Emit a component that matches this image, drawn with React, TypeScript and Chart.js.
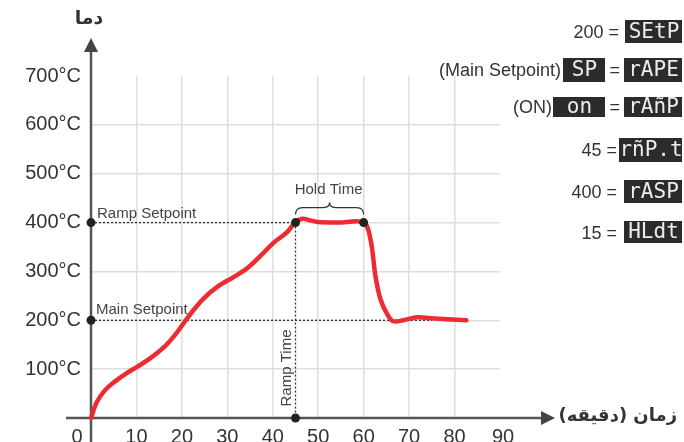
import { useEffect, useRef } from 'react';
import { Chart, registerables } from 'chart.js';

Chart.register(...registerables);

// ---- data ----
const timeMin = [0, 1.2, 3, 5.3, 8.2, 10.4, 13.3, 16.3, 18.5, 20.7, 22.4, 24.7, 27.7, 31.3, 34.3, 37.2, 40.1, 43.1, 45, 46.5, 48, 50, 55, 60, 61.5, 62.6, 63.7, 65.2, 66.5, 68.7, 71.8, 74.7, 78.4, 82.6];
const tempC = [0, 31, 56, 75, 94, 106, 124, 147, 170, 198, 219, 244, 268, 288, 306, 331, 358, 380, 401, 408, 405, 401, 400, 400, 366, 290, 243, 212, 198, 200, 206, 204, 202, 200];
const markerTime = [0, 0, 45, 60, 45];
const markerTemp = [400, 200, 400, 400, 0];
const xTickValues = [0, 10, 20, 30, 40, 50, 60, 70, 80, 90];
const yTickValues = [100, 200, 300, 400, 500, 600, 700];
const rampSetpoint = 400;
const mainSetpoint = 200;
const rampTime = 45;
const holdEnd = 60;
const mainSetpointEnd = 75;
const yAxisTitle = 'دما';
const xAxisTitle = 'زمان (دقیقه)';
const panelRows = [
  { pre: '200 =', codes: ['SEtP'] },
  { pre: '(Main Setpoint)', codes: ['SP', 'rAPE'] },
  { pre: '(ON)', codes: ['on', 'rAñP'] },
  { pre: '45 =', codes: ['rñP.t'] },
  { pre: '400 =', codes: ['rASP'] },
  { pre: '15 =', codes: ['HLdt'] },
];

const LATIN = '"Liberation Sans", Arial, sans-serif';

export default function App() {
  const ref = useRef<HTMLCanvasElement>(null);

  useEffect(() => {
    if (!ref.current) return;
    document.body.style.margin = '0';

    const overlay = {
      id: 'overlay',
      beforeDatasetsDraw(chart: any) {
        const { ctx, scales } = chart;
        const x = scales.x, y = scales.y;
        const X = (v: number) => x.getPixelForValue(v);
        const Y = (v: number) => y.getPixelForValue(v);
        const seg = (a: number, b: number, c: number, d: number) => {
          ctx.beginPath(); ctx.moveTo(a, b); ctx.lineTo(c, d); ctx.stroke();
        };
        ctx.save();
        // dotted guides
        ctx.setLineDash([2, 2]);
        ctx.strokeStyle = '#333';
        ctx.lineWidth = 1.3;
        seg(X(0), Y(rampSetpoint), X(rampTime), Y(rampSetpoint));
        seg(X(0), Y(mainSetpoint), X(mainSetpointEnd), Y(mainSetpoint));
        seg(X(rampTime), Y(rampSetpoint), X(rampTime), Y(0));
        ctx.setLineDash([]);
        // axes
        ctx.strokeStyle = '#555';
        ctx.fillStyle = '#444';
        ctx.lineWidth = 2.5;
        const x0 = X(0), y0 = Y(0);
        seg(x0, chart.height, x0, 50);
        seg(x0 - 25, y0, 543, y0);
        ctx.beginPath();
        ctx.moveTo(x0, 38); ctx.lineTo(x0 - 7, 52); ctx.lineTo(x0 + 7, 52); ctx.closePath(); ctx.fill();
        ctx.beginPath();
        ctx.moveTo(555, y0); ctx.lineTo(541, y0 - 7); ctx.lineTo(541, y0 + 7); ctx.closePath(); ctx.fill();
        // x tick labels
        ctx.fillStyle = '#333';
        ctx.font = `20px ${LATIN}`;
        ctx.textAlign = 'center';
        ctx.textBaseline = 'alphabetic';
        xTickValues.forEach((v) => {
          const off = v === 0 ? -14 : v === 90 ? 3 : 0;
          ctx.fillText(String(v), X(v) + off, 443);
        });
        ctx.restore();
      },
      afterDatasetsDraw(chart: any) {
        const { ctx, scales } = chart;
        const x = scales.x, y = scales.y;
        const X = (v: number) => x.getPixelForValue(v);
        const Y = (v: number) => y.getPixelForValue(v);
        ctx.save();
        // annotations
        ctx.fillStyle = '#444';
        ctx.font = `15px ${LATIN}`;
        ctx.textAlign = 'left';
        ctx.textBaseline = 'alphabetic';
        ctx.fillText('Ramp Setpoint', X(0) + 6, Y(rampSetpoint) - 5);
        ctx.fillText('Main Setpoint', X(0) + 5, Y(mainSetpoint) - 6);
        ctx.textAlign = 'center';
        const l = X(rampTime), r = X(holdEnd), mid = (l + r) / 2;
        const by = Y(rampSetpoint) - 10;
        ctx.fillText('Hold Time', mid - 1, by - 19);
        // brace
        ctx.strokeStyle = '#333';
        ctx.lineWidth = 1.3;
        ctx.beginPath();
        ctx.moveTo(l, by + 2);
        ctx.quadraticCurveTo(l, by - 5, l + 7, by - 5);
        ctx.lineTo(mid - 6, by - 5);
        ctx.quadraticCurveTo(mid, by - 5, mid, by - 10);
        ctx.quadraticCurveTo(mid, by - 5, mid + 6, by - 5);
        ctx.lineTo(r - 7, by - 5);
        ctx.quadraticCurveTo(r, by - 5, r, by + 2);
        ctx.stroke();
        // Ramp Time vertical
        ctx.save();
        ctx.translate(X(rampTime) - 9, Y(0) - 50);
        ctx.rotate(-Math.PI / 2);
        ctx.textAlign = 'center';
        ctx.textBaseline = 'middle';
        ctx.fillText('Ramp Time', 0, 0);
        ctx.restore();
        // Persian axis titles
        ctx.fillStyle = '#333';
        ctx.textBaseline = 'middle';
        ctx.direction = 'rtl';
        ctx.textAlign = 'center';
        ctx.font = 'bold 19px "DejaVu Sans", sans-serif';
        ctx.fillText(yAxisTitle, X(0) - 2, 19);
        ctx.textAlign = 'right';
        ctx.font = 'bold 18px "DejaVu Sans", sans-serif';
        ctx.fillText(xAxisTitle, 677, Y(0) - 2);
        ctx.direction = 'ltr';
        // right panel
        const layout = [
          { cy: 32, pre: 619, boxes: [[625, 20, 57, 23]] },
          { cy: 70, pre: 561, eq: 620, boxes: [[563, 58, 42, 24], [624, 58, 58, 24]] },
          { cy: 107, pre: 552, eq: 620, boxes: [[553, 97, 52, 20], [624, 97, 58, 20]] },
          { cy: 150, pre: 617, boxes: [[619, 138, 63, 24]] },
          { cy: 192, pre: 617, boxes: [[624, 180, 58, 23]] },
          { cy: 233, pre: 617, boxes: [[624, 221, 58, 22]] },
        ];
        panelRows.forEach((row, i) => {
          const L = layout[i] as any;
          ctx.fillStyle = '#333';
          ctx.font = `18px ${LATIN}`;
          ctx.textAlign = 'right';
          ctx.textBaseline = 'middle';
          ctx.fillText(row.pre, L.pre, L.cy + 1);
          if (L.eq) ctx.fillText('=', L.eq, L.cy + 1);
          row.codes.forEach((code, j) => {
            const [bx, byy, bw, bh] = L.boxes[j];
            ctx.fillStyle = '#2b2b2b';
            ctx.fillRect(bx, byy, bw, bh);
            ctx.fillStyle = '#ececec';
            ctx.font = `21px "DejaVu Sans Mono", monospace`;
            ctx.textAlign = 'center';
            ctx.fillText(code, bx + bw / 2 + 0.5, byy + bh / 2 + 1);
          });
        });
        ctx.restore();
      },
    };

    const gridColor = (lo: number, hi: number) => (c: any) =>
      c.tick && c.tick.value > lo && c.tick.value < hi ? '#dedede' : 'rgba(0,0,0,0)';

    const chart = new Chart(ref.current, {
      type: 'line',
      data: {
        datasets: [
          {
            data: markerTime.map((t, i) => ({ x: t, y: markerTemp[i] })),
            showLine: false,
            pointRadius: 4.5,
            pointBackgroundColor: '#222',
            pointBorderWidth: 0,
            clip: false as any,
            order: 0,
          },
          {
            data: timeMin.map((t, i) => ({ x: t, y: tempC[i] })),
            borderColor: '#ee2a32',
            borderWidth: 4.5,
            pointRadius: 0,
            tension: 0.35,
            borderCapStyle: 'round',
            borderJoinStyle: 'round',
            clip: false as any,
            order: 1,
          },
        ],
      },
      options: {
        animation: false,
        responsive: false,
        devicePixelRatio: 1,
        layout: { padding: { top: 76, right: 184, left: 0, bottom: 0 } },
        plugins: { legend: { display: false }, tooltip: { enabled: false } },
        events: [],
        scales: {
          x: {
            type: 'linear',
            min: 0,
            max: 90,
            afterBuildTicks: (s: any) => { s.ticks = xTickValues.map((v) => ({ value: v })); },
            ticks: { display: false },
            grid: { color: gridColor(0, 90), lineWidth: 1.5, drawTicks: false },
            border: { display: false },
            afterFit: (s: any) => { s.height = 24; },
          },
          y: {
            type: 'linear',
            min: 0,
            max: 700,
            afterBuildTicks: (s: any) => { s.ticks = [0, ...yTickValues].map((v) => ({ value: v })); },
            ticks: {
              callback: (v: any) => (v === 0 ? '' : `${v}°C`),
              font: { size: 20, family: LATIN },
              color: '#333',
              padding: 10,
            },
            grid: { color: gridColor(0, 700), lineWidth: 1.5, drawTicks: false },
            border: { display: false },
            afterFit: (s: any) => { s.width = 91; },
          },
        },
      },
      plugins: [overlay],
    } as any);

    return () => chart.destroy();
  }, []);

  return (
    <div style={{ position: 'absolute', left: 0, top: 0, width: 684, height: 442, background: '#fff' }}>
      <canvas ref={ref} width={684} height={442} style={{ width: 684, height: 442, display: 'block' }} />
    </div>
  );
}
